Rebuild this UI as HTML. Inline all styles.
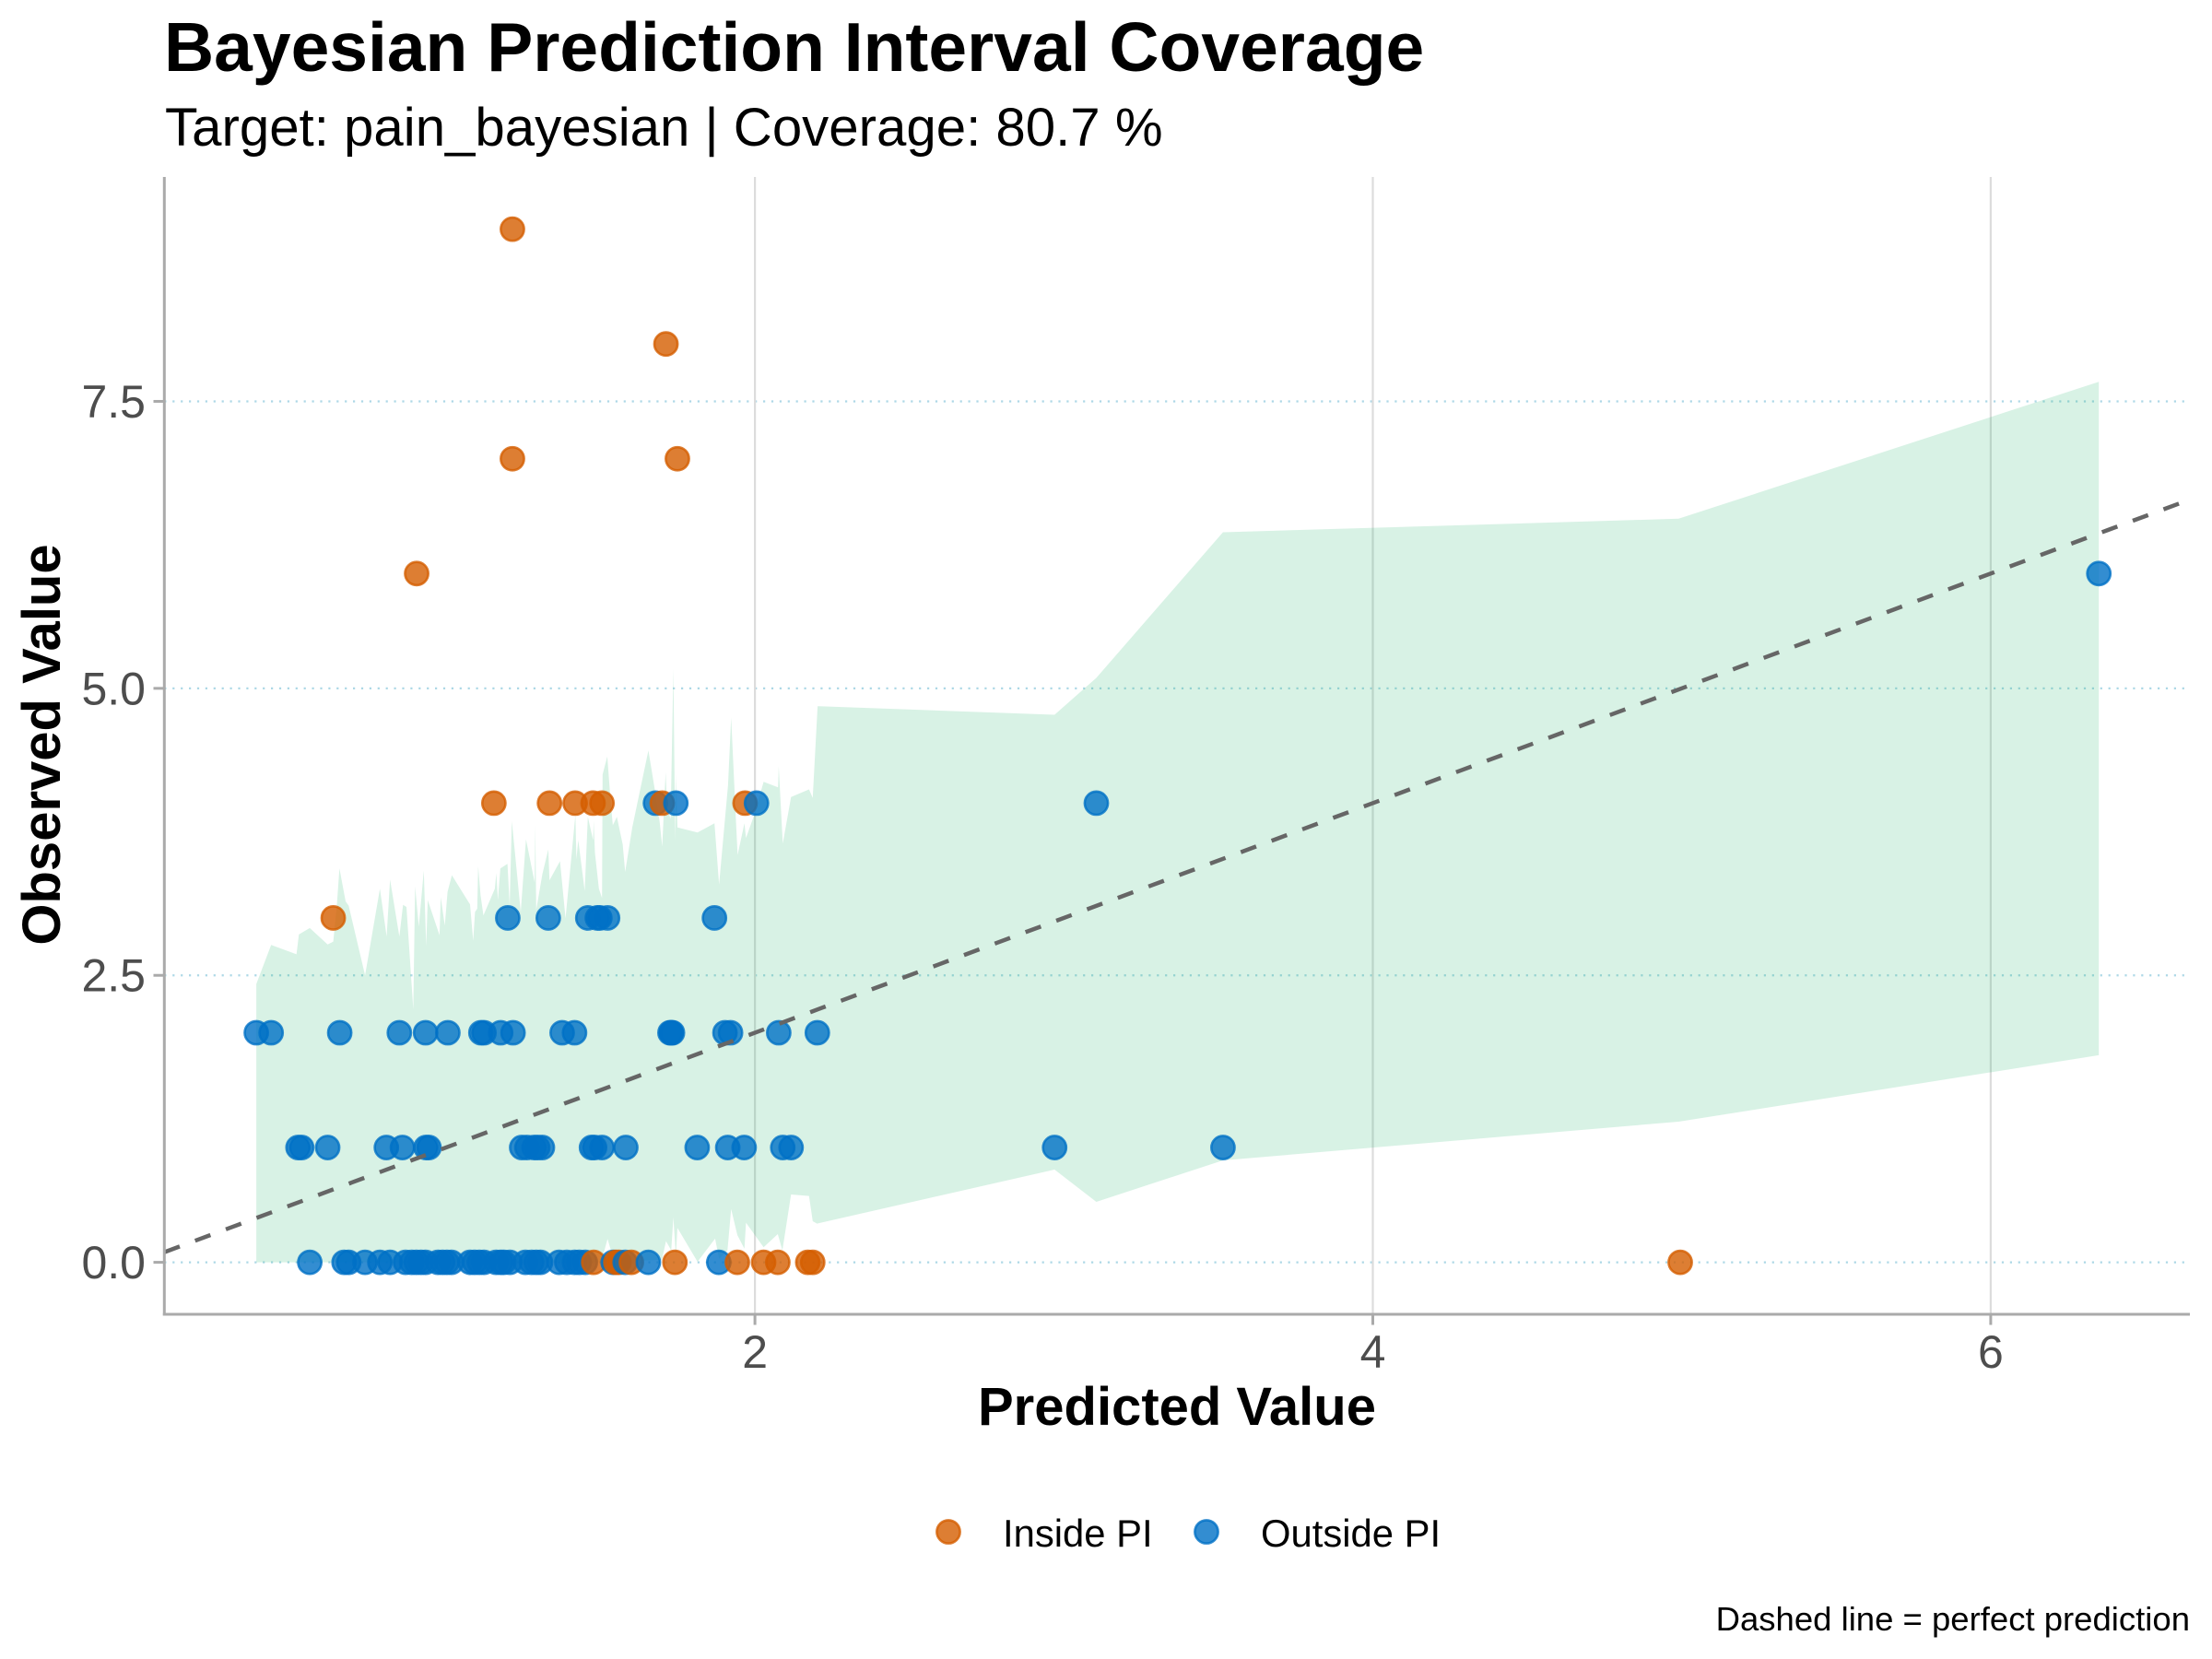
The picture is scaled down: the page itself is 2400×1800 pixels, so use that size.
<!DOCTYPE html>
<html>
<head>
<meta charset="utf-8">
<title>Bayesian Prediction Interval Coverage</title>
<style>
html,body{margin:0;padding:0;background:#fff;width:2400px;height:1800px;overflow:hidden;}
svg{display:block;}
text{font-family:"Liberation Sans",Arial,sans-serif;}
</style>
</head>
<body>
<svg id="chart" xmlns="http://www.w3.org/2000/svg" width="2400" height="1800" viewBox="0 0 2400 1800">
  <rect x="0" y="0" width="2400" height="1800" fill="#ffffff"/>
  <text x="178" y="77" font-size="75" font-weight="700" fill="#000">Bayesian Prediction Interval Coverage</text>
  <text x="179" y="158" font-size="58.2" fill="#000">Target: pain_bayesian | Coverage: 80.7 %</text>
  <g id="grid"></g>
  <path id="ribbon" fill="#20b46c" fill-opacity="0.175" stroke="none"></path>
  <g id="points"></g>
  <line id="refline" stroke="#666666" stroke-width="4.5" stroke-dasharray="17.8 17.8"></line>
  <g id="axes">
    <line x1="178.3" y1="192" x2="178.3" y2="1427.5" stroke="#aaaaaa" stroke-width="3"/>
    <line x1="176.8" y1="1426" x2="2376" y2="1426" stroke="#aaaaaa" stroke-width="3"/>
  </g>
  <text x="1277" y="1546" font-size="58" font-weight="700" text-anchor="middle" fill="#000">Predicted Value</text>
  <text transform="translate(65,808) rotate(-90)" font-size="58" font-weight="700" text-anchor="middle" fill="#000">Observed Value</text>
  <g>
    <circle cx="1029" cy="1662" r="12.6" fill="#D55E00" fill-opacity="0.8" stroke="#D55E00" stroke-opacity="0.8" stroke-width="2.6"/>
    <text x="1088" y="1678" font-size="41.8" fill="#000">Inside PI</text>
    <circle cx="1309" cy="1662" r="12.6" fill="#0070C5" fill-opacity="0.8" stroke="#0070C5" stroke-opacity="0.8" stroke-width="2.6"/>
    <text x="1368" y="1678" font-size="41.8" fill="#000">Outside PI</text>
  </g>
  <text x="2376" y="1769" font-size="36.5" text-anchor="end" fill="#000">Dashed line = perfect prediction</text>
</svg>
<script>
const xTicks = [2, 4, 6];
const yTicks = [0, 2.5, 5, 7.5];
const yTickLabels = ["0.0", "2.5", "5.0", "7.5"];

const ribbonUpperX = [0.386,0.434,0.516,0.524,0.559,0.617,0.635,0.647,0.655,0.675,0.685,0.738,0.786,0.808,0.819,0.849,0.861,0.872,0.894,0.900,0.912,0.928,0.936,0.941,0.979,0.983,0.996,1.005,1.019,1.078,1.088,1.094,1.101,1.104,1.112,1.121,1.158,1.163,1.168,1.176,1.199,1.206,1.213,1.220,1.242,1.259,1.287,1.289,1.292,1.312,1.331,1.335,1.369,1.387,1.419,1.422,1.428,1.449,1.459,1.476,1.478,1.482,1.495,1.505,1.507,1.522,1.533,1.540,1.553,1.572,1.580,1.603,1.655,1.677,1.692,1.700,1.711,1.716,1.727,1.736,1.742,1.745,1.749,1.814,1.869,1.884,1.913,1.923,1.938,1.944,1.966,1.971,1.998,2.028,2.075,2.077,2.090,2.117,2.175,2.187,2.203,2.97,3.105,3.515,4.99,6.35];
const ribbonUpper = [2.425,2.764,2.683,2.856,2.912,2.768,2.794,3.125,3.431,3.144,3.107,2.499,3.254,2.838,3.335,2.838,3.114,3.096,2.204,3.273,2.923,3.412,2.757,3.155,2.849,3.180,2.934,3.228,3.372,3.118,2.801,3.052,3.081,3.449,3.199,3.022,3.254,3.390,3.155,3.431,3.471,3.107,3.843,3.659,3.052,3.685,3.309,3.807,3.070,3.383,3.597,3.328,3.494,2.996,3.899,3.512,3.678,3.236,3.880,3.678,3.843,3.567,3.254,3.173,4.249,4.407,4.009,3.807,3.880,3.641,3.401,3.788,4.459,4.101,3.825,3.622,4.267,3.954,3.862,5.169,3.678,4.249,3.788,3.744,3.825,3.291,4.156,4.746,3.880,3.549,3.825,3.696,3.899,4.186,4.138,4.322,3.648,4.053,4.120,4.046,4.845,4.770,5.091,6.360,6.478,7.670];
const ribbonLowerX = [0.386,1.505,1.510,1.523,1.545,1.699,1.712,1.729,1.736,1.744,1.749,1.814,1.871,1.884,1.911,1.923,1.943,1.966,1.971,2.028,2.074,2.089,2.117,2.175,2.187,2.201,2.97,3.105,3.515,4.99,6.35];
const ribbonLower = [0,0,0.078,0.203,0,0.024,0.185,0.104,0.393,0.051,0.300,0.005,0.206,0.030,0.104,0.465,0.238,0.118,0.345,0.131,0.246,0.104,0.591,0.578,0.358,0.337,0.808,0.527,0.888,1.225,1.804];

const insidePredicted = [1.215,1.712,1.215,1.749,0.905,1.155,1.335,1.418,1.476,1.505,1.700,1.968,0.635,1.478,1.550,1.560,1.600,1.741,1.943,2.028,2.074,2.171,2.187,4.995];
const insideObserved = [9,8,7,7,6,4,4,4,4,4,4,4,3,0,0,0,0,0,0,0,0,0,0,0];

const outsidePredicted = [6.350,1.678,1.744,2.005,3.105,1.200,1.331,1.459,1.490,1.498,1.523,1.869,0.386,0.434,0.656,0.849,0.934,1.006,1.113,1.123,1.177,1.217,1.376,1.416,1.725,1.729,1.733,1.903,1.921,2.077,2.202,0.521,0.533,0.617,0.807,0.859,0.935,0.945,1.245,1.262,1.285,1.297,1.312,1.471,1.481,1.505,1.582,1.813,1.912,1.965,2.090,2.117,2.970,3.515,0.559,0.670,0.685,0.738,0.786,0.819,0.869,0.889,0.904,0.919,0.934,0.974,0.989,1.003,1.018,1.078,1.093,1.108,1.123,1.162,1.177,1.187,1.207,1.257,1.277,1.292,1.306,1.366,1.391,1.416,1.431,1.451,1.541,1.580,1.655,1.883];
const outsideObserved = [6,4,4,4,4,3,3,3,3,3,3,3,2,2,2,2,2,2,2,2,2,2,2,2,2,2,2,2,2,2,2,1,1,1,1,1,1,1,1,1,1,1,1,1,1,1,1,1,1,1,1,1,1,1,0,0,0,0,0,0,0,0,0,0,0,0,0,0,0,0,0,0,0,0,0,0,0,0,0,0,0,0,0,0,0,0,0,0,0,0];

const NS = "http://www.w3.org/2000/svg";
const PANEL_LEFT = 178.3, PANEL_RIGHT = 2376, PANEL_TOP = 192, PANEL_BOTTOM = 1426;
function xScale(v){ return 148.7 + 335.2 * v; }
function yScale(v){ return 1369.6 - 124.55 * v; }
function xInvert(p){ return (p - 148.7) / 335.2; }
function make(tag, attrs){
  const el = document.createElementNS(NS, tag);
  for (const k in attrs) el.setAttribute(k, attrs[k]);
  return el;
}

const grid = document.getElementById("grid");
const axes = document.getElementById("axes");

yTicks.forEach(function(t, i){
  const line = make("line", {x1: PANEL_LEFT, x2: PANEL_RIGHT, y1: yScale(t), y2: yScale(t), stroke: "#add8e6", "stroke-width": 2.2, "stroke-dasharray": "2.2 6.7"});
  
  
  grid.appendChild(line);
  const tick = make("line", {x1: 166.5, x2: 178.3, y1: yScale(t), y2: yScale(t), stroke: "#aaaaaa", "stroke-width": 3});
  
  
  axes.appendChild(tick);
  const label = make("text", {x: 158, y: yScale(t) + 17.5, "font-size": 50, "text-anchor": "end", fill: "#4d4d4d"});
  
  
  label.textContent = yTickLabels[i];
  axes.appendChild(label);
});

xTicks.forEach(function(t){
  const line = make("line", {x1: xScale(t), x2: xScale(t), y1: PANEL_TOP, y2: PANEL_BOTTOM, stroke: "#dcdcdc", "stroke-width": 2.2});
  
  
  grid.appendChild(line);
  const tick = make("line", {x1: xScale(t), x2: xScale(t), y1: 1426, y2: 1437.5, stroke: "#aaaaaa", "stroke-width": 3});
  
  
  axes.appendChild(tick);
  const label = make("text", {x: xScale(t), y: 1484, "font-size": 50, "text-anchor": "middle", fill: "#4d4d4d"});
  
  
  label.textContent = String(t);
  axes.appendChild(label);
});

const upperPts = ribbonUpperX.map(function(x, i){ return xScale(x).toFixed(1) + "," + yScale(ribbonUpper[i]).toFixed(1); });
const lowerPts = ribbonLowerX.map(function(x, i){ return xScale(x).toFixed(1) + "," + yScale(ribbonLower[i]).toFixed(1); }).reverse();
document.getElementById("ribbon").setAttribute("d", "M" + upperPts.concat(lowerPts).join("L") + "Z");

const allPoints = [];
insidePredicted.forEach(function(x, i){ allPoints.push({x: x, y: insideObserved[i], color: "#D55E00", name: "point-inside-pi"}); });
outsidePredicted.forEach(function(x, i){ allPoints.push({x: x, y: outsideObserved[i], color: "#0070C5", name: "point-outside-pi"}); });
allPoints.sort(function(a, b){ return a.x - b.x; });

const pointsGroup = document.getElementById("points");
allPoints.forEach(function(p){
  const c = make("circle", {cx: xScale(p.x), cy: yScale(p.y), r: 12.6, fill: p.color, "fill-opacity": 0.8, stroke: p.color, "stroke-opacity": 0.8, "stroke-width": 2.6});
  
  
  pointsGroup.appendChild(c);
});

const ref = document.getElementById("refline");
const refStart = xInvert(PANEL_LEFT), refEnd = xInvert(PANEL_RIGHT);
ref.setAttribute("x1", xScale(refStart));
ref.setAttribute("y1", yScale(refStart));
ref.setAttribute("x2", xScale(refEnd));
ref.setAttribute("y2", yScale(refEnd));
</script>
</body>
</html>
